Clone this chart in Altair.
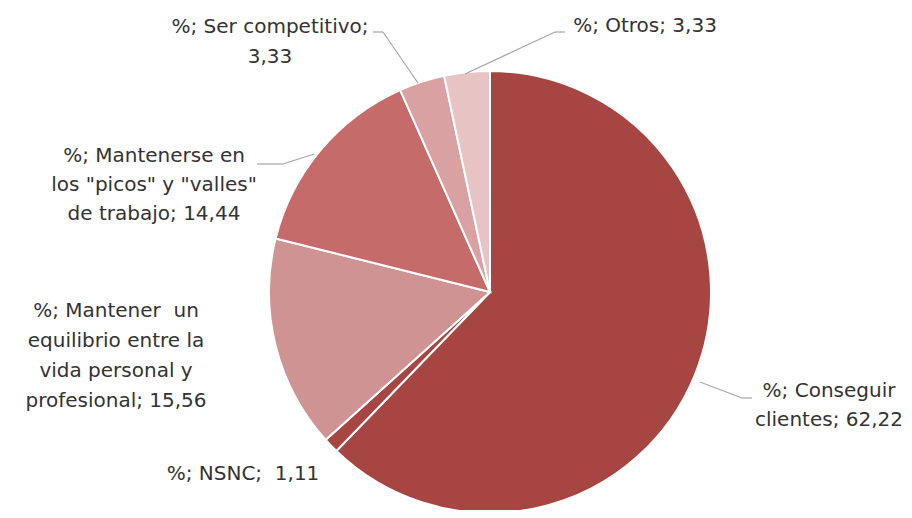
import altair as alt
import pandas as pd

categories = [
    "Conseguir clientes",
    "NSNC",
    "Mantener un equilibrio entre la vida personal y profesional",
    'Mantenerse en los "picos" y "valles" de trabajo',
    "Ser competitivo",
    "Otros",
]
values = [62.22, 1.11, 15.56, 14.44, 3.33, 3.33]
colors = ["#A64542", "#A64542", "#D09393", "#C56C6B", "#D9A1A1", "#E7C3C4"]
label_lines = [
    ["%; Conseguir", "clientes; 62,22"],
    ["%; NSNC;\u00a0 1,11"],
    ["%; Mantener\u00a0 un", "equilibrio entre la", "vida personal y", "profesional; 15,56"],
    ["%; Mantenerse en", 'los "picos" y "valles"', "de trabajo; 14,44"],
    ["%; Ser competitivo;", "3,33"],
    ["%; Otros; 3,33"],
]

# layout (chart pixel coordinates, page minus 8px margin)
CX, CY, R = 482, 284, 221
label_pos = [(821, 397), (235, 466), (108, 348), (146, 177), (262, 34), (637, 18)]
label_lh = [29, 29, 30, 29, 30, 30]
leaders = [
    [(692, 374), (734, 390), (744, 390)],
    [],
    [],
    [(249, 156), (275, 156), (306, 146)],
    [(365, 24), (375, 24), (410, 75)],
    [(557, 24), (547, 24), (457, 66)],
]

df = pd.DataFrame({"cat": categories, "val": values, "idx": list(range(len(values)))})

pie = alt.Chart(df).mark_arc(outerRadius=R, stroke="white", strokeWidth=2).encode(
    theta=alt.Theta("val:Q", stack=True),
    order=alt.Order("idx:Q"),
    color=alt.Color("cat:N", scale=alt.Scale(domain=categories, range=colors), legend=None),
    x=alt.value(CX),
    y=alt.value(CY),
)

layers = [pie]
for lines, (lx, ly), lh in zip(label_lines, label_pos, label_lh):
    layers.append(
        alt.Chart(pd.DataFrame({"t": [lines]})).mark_text(
            font="DejaVu Sans", fontSize=20, color="#333333", align="center",
            baseline="middle", lineHeight=lh,
        ).encode(text="t", x=alt.value(lx), y=alt.value(ly - (len(lines) - 1) * lh / 2))
    )

for pts in leaders:
    for (x1, y1), (x2, y2) in zip(pts[:-1], pts[1:]):
        layers.append(
            alt.Chart(pd.DataFrame({"a": [0]})).mark_rule(color="#A6A6A6", strokeWidth=1.2).encode(
                x=alt.value(x1), y=alt.value(y1), x2=alt.value(x2), y2=alt.value(y2)
            )
        )

chart = alt.layer(*layers).properties(
    width=896, height=502, padding=0, autosize=alt.AutoSizeParams(type="none")
).configure_view(stroke=None)

chart.save("out.html", embed_options={"renderer": "svg", "actions": False})
